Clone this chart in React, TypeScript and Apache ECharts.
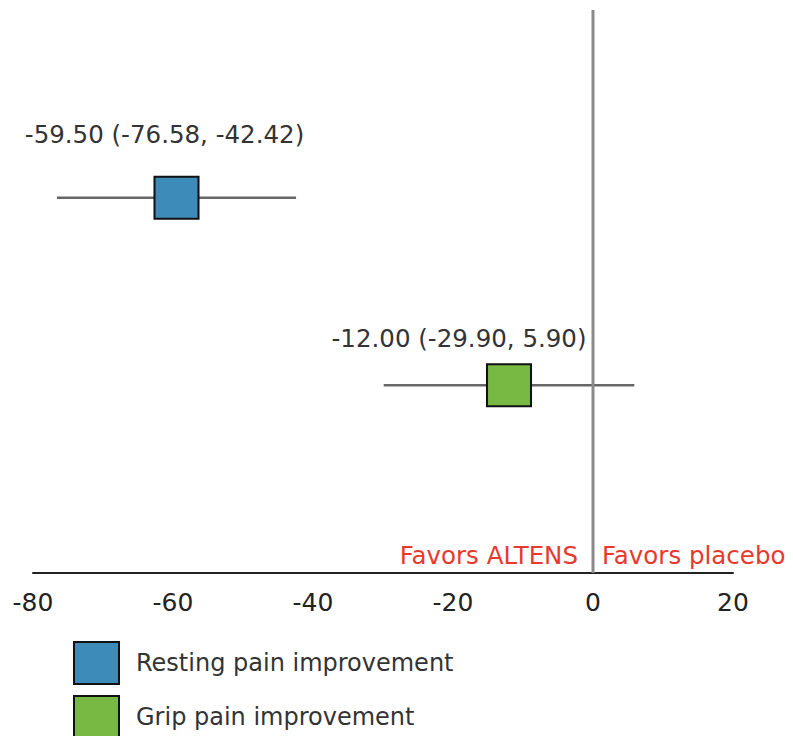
import React, { useEffect, useRef } from "react";
import * as echarts from "echarts";

const categories = ["Resting pain improvement", "Grip pain improvement"];
const estimates = [-59.5, -12.0];
const lowerCI = [-76.58, -29.9];
const upperCI = [-42.42, 5.9];
const colors = ["#3d8bb9", "#78b943"];
const labelOffsets = [[-12, -63], [-50, -47]];
const xMin = -80;
const xMax = 20;
const xStep = 20;
const favorsLeft = "Favors ALTENS";
const favorsRight = "Favors placebo";

const FONT = "DejaVu Sans";

export default function App() {
  const ref = useRef<HTMLDivElement>(null);
  useEffect(() => {
    const chart = echarts.init(ref.current!, null, { renderer: "svg" });
    const n = categories.length;
    const rowY = (i: number) => n - i;
    const fmt = (v: number) => v.toFixed(2);
    const series: any[] = [];
    series.push({
      type: "custom",
      name: "ci",
      renderItem: (params: any, api: any) => {
        const y = api.value(2);
        const p1 = api.coord([api.value(0), y]);
        const p2 = api.coord([api.value(1), y]);
        return {
          type: "line",
          shape: { x1: p1[0], y1: p1[1], x2: p2[0], y2: p2[1] },
          style: { stroke: "#666", lineWidth: 2.5 },
        };
      },
      data: categories.map((c, i) => [lowerCI[i], upperCI[i], rowY(i)]),
      z: 2,
      silent: true,
    });
    series.push({
      type: "line",
      name: "zero",
      data: [
        [0, 0],
        [0, n + 1],
      ],
      symbol: "none",
      lineStyle: { color: "#8a8a8a", width: 3 },
      z: 3,
      silent: true,
    });
    categories.forEach((c, i) =>
      series.push({
        type: "scatter",
        name: c,
        symbol: "rect",
        symbolSize: [44, 42],
        itemStyle: { color: colors[i], borderColor: "#111", borderWidth: 2, opacity: 1 },
        emphasis: { disabled: true },
        data: [[estimates[i], rowY(i)]],
        label: {
          show: true,
          position: "inside",
          offset: labelOffsets[i],
          formatter: `${fmt(estimates[i])} (${fmt(lowerCI[i])}, ${fmt(upperCI[i])})`,
          fontFamily: FONT,
          fontSize: 24.5,
          color: "#333",
        },
        z: 5,
      })
    );
    chart.setOption({
      animation: false,
      grid: { left: 33, right: 60, top: 10, bottom: 163 },
      xAxis: {
        type: "value",
        min: xMin,
        max: xMax,
        interval: xStep,
        axisLine: { show: true, onZero: false, lineStyle: { color: "#222", width: 2 } },
        axisTick: { show: false },
        splitLine: { show: false },
        axisLabel: { fontFamily: FONT, fontSize: 25, color: "#222", margin: 17 },
      },
      yAxis: {
        type: "value",
        min: 0,
        max: n + 1,
        show: false,
        splitLine: { show: false },
      },
      legend: {
        orient: "vertical",
        left: 73,
        top: 641,
        height: 120,
        padding: 0,
        itemWidth: 45,
        itemHeight: 42,
        itemGap: 10,
        icon: "rect",
        data: categories,
        itemStyle: { borderColor: "#111", borderWidth: 2 },
        textStyle: { fontFamily: FONT, fontSize: 24, color: "#333", padding: [0, 0, 0, 12] },
        selectedMode: false,
      },
      graphic: [
        {
          type: "text",
          x: 578,
          y: 555,
          style: {
            text: favorsLeft,
            fill: "#e8392f",
            font: `24.5px "${FONT}"`,
            textAlign: "right",
            textVerticalAlign: "middle",
          },
        },
        {
          type: "text",
          x: 602,
          y: 555,
          style: {
            text: favorsRight,
            fill: "#e8392f",
            font: `24.5px "${FONT}"`,
            textAlign: "left",
            textVerticalAlign: "middle",
          },
        },
      ],
      series,
    });
    return () => chart.dispose();
  }, []);
  return (
    <div
      ref={ref}
      style={{ position: "fixed", left: 0, top: 0, width: 793, height: 736, background: "#fff" }}
    />
  );
}
